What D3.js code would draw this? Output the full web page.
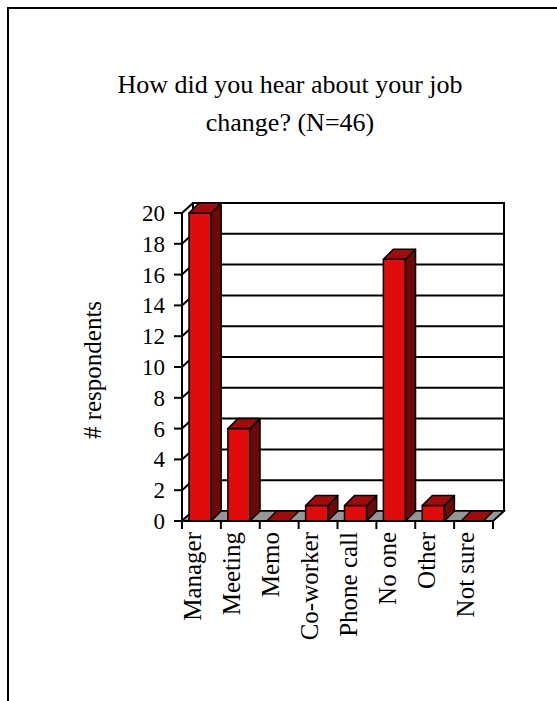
<!DOCTYPE html>
<html>
<head>
<meta charset="utf-8">
<script src="https://cdn.jsdelivr.net/npm/d3@7"></script>
<style>
  html, body { margin: 0; padding: 0; background: #fff; }
  svg text { font-family: "Liberation Serif", "Times New Roman", serif; fill: #000; }
</style>
</head>
<body>
<svg id="chart" width="557" height="701"></svg>
<script>
const categories = ["Manager", "Meeting", "Memo", "Co-worker", "Phone call", "No one", "Other", "Not sure"];
const counts = [20, 6, 0, 1, 1, 17, 1, 0];
const yTicks = [0, 2, 4, 6, 8, 10, 12, 14, 16, 18, 20];
const titleLines = ["How did you hear about your job", "change? (N=46)"];
const yLabel = "# respondents";

const svg = d3.select("#chart");
const depth = { dx: 11, dy: 10 };
const barDepth = { dx: 10, dy: 10 };

// outer frame (runs off the right and bottom edge)
svg.append("rect")
  .attr("x", 8).attr("y", 8)
  .attr("width", 700).attr("height", 900)
  .attr("fill", "none").attr("stroke", "#000").attr("stroke-width", 2);

// title
svg.append("g").selectAll("text")
  .data(titleLines)
  .enter()
  .append("text")
  .attr("x", 290)
  .attr("y", (d, i) => 93 + i * 38)
  .attr("text-anchor", "middle")
  .style("font-size", "26px")
  .text((d) => d);

const x = d3.scaleBand().domain(categories).range([182, 493]).padding(0);
const y = d3.scaleLinear().domain([0, 20]).range([521, 213]);

const x0 = x.range()[0], x1 = x.range()[1];
const y0 = y(0), yTop = y(20);

// floor
svg.append("path")
  .attr("d", `M${x0},${y0} L${x1},${y0} L${x1 + depth.dx},${y0 - depth.dy} L${x0 + depth.dx},${y0 - depth.dy} Z`)
  .attr("fill", "#969696").attr("stroke", "#000").attr("stroke-width", 1.5);

// back wall
svg.append("rect")
  .attr("x", x0 + depth.dx).attr("y", yTop - depth.dy)
  .attr("width", x1 - x0).attr("height", y0 - yTop)
  .attr("fill", "#fff").attr("stroke", "#000").attr("stroke-width", 2);

// gridlines on back wall + left wall
const grid = svg.append("g").attr("stroke", "#000").attr("stroke-width", 2);
grid.selectAll(".gback")
  .data(yTicks)
  .enter()
  .append("line")
  .attr("class", "gback")
  .attr("x1", x0 + depth.dx).attr("x2", x1 + depth.dx)
  .attr("y1", (d) => y(d) - depth.dy).attr("y2", (d) => y(d) - depth.dy);
grid.selectAll(".gside")
  .data(yTicks)
  .enter()
  .append("line")
  .attr("class", "gside")
  .attr("x1", x0).attr("x2", x0 + depth.dx)
  .attr("y1", (d) => y(d)).attr("y2", (d) => y(d) - depth.dy);

// redraw floor over the bottom gridline area
svg.append("path")
  .attr("d", `M${x0},${y0} L${x1},${y0} L${x1 + depth.dx},${y0 - depth.dy} L${x0 + depth.dx},${y0 - depth.dy} Z`)
  .attr("fill", "#969696").attr("stroke", "#000").attr("stroke-width", 1.5);

// bars
const barW = x.bandwidth() * 0.57;
const barOff = 7;
const bars = svg.append("g")
  .attr("stroke", "#000").attr("stroke-width", 1.5).attr("stroke-linejoin", "round");

categories.forEach((c, i) => {
  const v = counts[i];
  const bx = x(c) + barOff;
  const by = y(v);
  const g = bars.append("g");
  if (v > 0) {
    g.append("rect")
      .attr("x", bx).attr("y", by)
      .attr("width", barW).attr("height", y0 - by)
      .attr("fill", "#e00b0b");
    g.append("path")
      .attr("d", `M${bx + barW},${by} L${bx + barW + barDepth.dx},${by - barDepth.dy} L${bx + barW + barDepth.dx},${y0 - barDepth.dy} L${bx + barW},${y0} Z`)
      .attr("fill", "#6e0808");
  }
  g.append("path")
    .attr("d", `M${bx},${by} L${bx + barDepth.dx},${by - barDepth.dy} L${bx + barW + barDepth.dx},${by - barDepth.dy} L${bx + barW},${by} Z`)
    .attr("fill", "#a30a0a");
});

// front axes
svg.append("line")
  .attr("x1", x0).attr("x2", x0).attr("y1", yTop).attr("y2", y0)
  .attr("stroke", "#000").attr("stroke-width", 2);
svg.append("line")
  .attr("x1", x0).attr("x2", x1).attr("y1", y0).attr("y2", y0)
  .attr("stroke", "#000").attr("stroke-width", 2);
svg.append("line")
  .attr("x1", x1).attr("x2", x1 + depth.dx).attr("y1", y0).attr("y2", y0 - depth.dy)
  .attr("stroke", "#000").attr("stroke-width", 1.5);

// y axis ticks and labels
const yAxis = svg.append("g");
yAxis.selectAll("line")
  .data(yTicks)
  .enter()
  .append("line")
  .attr("x1", x0 - 8).attr("x2", x0)
  .attr("y1", (d) => y(d)).attr("y2", (d) => y(d))
  .attr("stroke", "#000").attr("stroke-width", 2);
yAxis.selectAll("text")
  .data(yTicks)
  .enter()
  .append("text")
  .attr("x", 165)
  .attr("y", (d) => y(d))
  .attr("dy", "0.35em")
  .attr("text-anchor", "end")
  .style("font-size", "23px")
  .text((d) => d);

// x axis ticks at category boundaries
const xBounds = categories.map((c) => x(c)).concat([x1]);
svg.append("g").selectAll("line")
  .data(xBounds)
  .enter()
  .append("line")
  .attr("x1", (d) => d).attr("x2", (d) => d)
  .attr("y1", y0).attr("y2", y0 + 8)
  .attr("stroke", "#000").attr("stroke-width", 2);

// category labels
svg.append("g").selectAll("text")
  .data(categories)
  .enter()
  .append("text")
  .attr("transform", (d) => `translate(${x(d) + x.bandwidth() / 2},532) rotate(-90)`)
  .attr("text-anchor", "end")
  .style("font-size", "25px")
  .text((d) => d);

// y axis title
svg.append("text")
  .attr("transform", "translate(101,370) rotate(-90)")
  .attr("text-anchor", "middle")
  .style("font-size", "25px")
  .text(yLabel);
</script>
</body>
</html>
